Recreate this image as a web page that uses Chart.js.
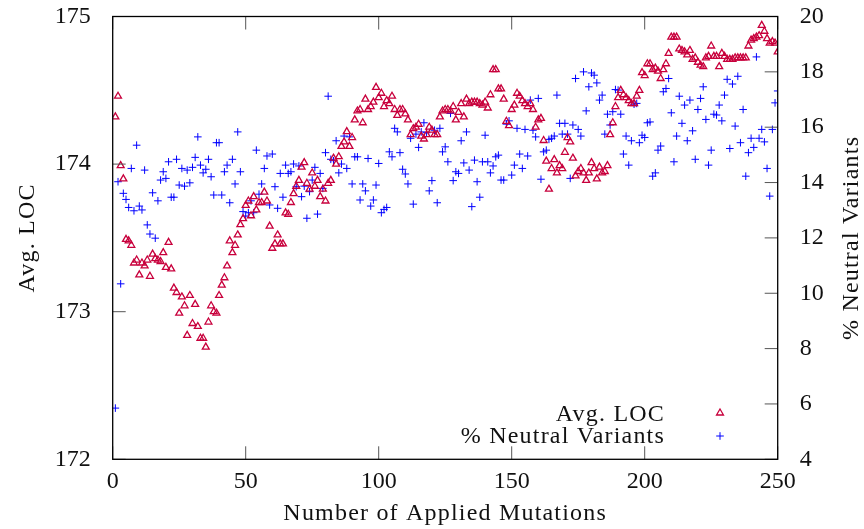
<!DOCTYPE html>
<html>
<head>
<meta charset="utf-8">
<script src="https://cdn.jsdelivr.net/npm/chart.js@4.4.0/dist/chart.umd.min.js"></script>
<style>
html,body{margin:0;padding:0;background:#fff;}
canvas{display:block;}
</style>
</head>
<body>
<canvas id="c" width="864" height="529"></canvas>
<script>
// Number of applied mutations (x categories)
const mutations = Array.from({length: 250}, (_, i) => i + 1);

// Avg. LOC (left axis)
const avgLOC = [
174.32,174.46,173.99,173.90,173.49,173.48,173.45,173.33,173.35,173.25,
173.33,173.31,173.35,173.24,173.39,173.36,173.35,173.34,173.40,173.30,
173.47,173.29,173.16,173.13,172.99,173.10,173.04,172.84,173.11,172.92,
173.05,172.90,172.82,172.82,172.76,172.93,173.04,173.00,172.99,173.11,
173.18,173.23,173.31,173.48,173.40,173.45,173.52,173.59,173.63,173.72,
173.75,173.65,173.78,173.69,173.74,173.74,173.81,173.75,173.58,173.43,
173.46,173.52,173.46,173.46,173.67,173.66,173.74,173.80,173.85,173.89,
173.98,174.01,173.87,173.83,173.94,173.85,173.89,173.78,173.83,173.75,
173.87,173.89,174.04,174.00,174.05,174.12,174.15,174.22,174.12,174.18,
174.30,174.36,174.37,174.28,174.44,174.37,174.39,174.42,174.52,174.45,
174.48,174.39,174.43,174.41,174.46,174.37,174.33,174.37,174.37,174.34,
174.30,174.20,174.24,174.25,174.27,174.19,174.17,174.20,174.25,174.23,
174.20,174.20,174.32,174.36,174.37,174.37,174.36,174.39,174.30,174.35,
174.41,174.32,174.44,174.41,174.42,174.42,174.42,174.41,174.40,174.42,
174.38,174.47,174.64,174.64,174.51,174.51,174.44,174.29,174.26,174.37,
174.40,174.48,174.46,174.43,174.41,174.39,174.41,174.37,174.25,174.30,
174.31,174.16,174.02,173.83,173.97,174.03,173.94,173.99,173.97,174.08,
174.18,174.15,174.04,173.92,173.95,173.97,173.94,173.89,173.94,174.01,
173.97,173.90,173.98,173.94,173.95,173.99,174.20,174.28,174.39,174.45,
174.50,174.47,174.45,174.43,174.41,174.41,174.46,174.50,174.62,174.60,
174.68,174.68,174.64,174.65,174.63,174.58,174.64,174.68,174.75,174.86,
174.86,174.86,174.78,174.77,174.76,174.74,174.77,174.71,174.72,174.69,
174.67,174.66,174.72,174.73,174.80,174.73,174.73,174.66,174.75,174.73,
174.71,174.71,174.71,174.72,174.72,174.72,174.72,174.72,174.80,174.84,
174.85,174.86,174.87,174.94,174.90,174.85,174.82,174.83,174.82,174.76
];

// % Neutral Variants (right axis)
const neutralPct = [
5.85,14.03,10.34,13.61,13.39,13.10,14.51,12.98,15.35,13.15,
13.01,14.45,12.47,12.14,13.63,11.99,13.34,14.09,14.39,14.15,
14.75,13.47,13.47,14.84,13.91,14.51,13.87,14.45,13.99,14.55,
14.91,15.65,14.63,14.35,14.48,14.84,14.21,13.55,15.44,15.44,
13.55,14.39,14.63,13.27,14.84,13.95,15.83,14.39,12.95,12.79,
12.91,13.34,12.91,15.17,13.58,13.95,14.51,14.96,13.19,15.03,
13.85,13.07,14.33,13.47,14.63,14.33,14.39,14.67,13.85,14.60,
13.49,13.87,12.71,13.67,14.09,14.55,12.86,14.33,13.79,15.08,
17.12,14.84,14.79,15.51,14.35,14.67,15.68,14.51,15.65,13.95,
14.93,14.93,13.37,13.95,13.70,14.87,13.15,13.37,13.91,14.69,
12.91,13.03,13.10,15.11,14.93,15.96,15.83,15.08,14.48,14.31,
13.95,15.60,13.22,15.75,15.27,15.83,16.16,15.80,13.70,14.07,
15.89,13.27,15.96,15.11,15.29,14.75,16.50,14.07,14.39,14.33,
15.51,14.71,15.83,14.45,13.13,14.81,14.03,13.47,14.75,15.71,
14.75,14.35,14.60,14.93,14.99,14.09,14.09,16.11,16.23,14.27,
14.63,15.96,15.03,14.51,15.92,14.96,16.98,15.89,15.65,17.04,
14.12,15.11,15.17,15.56,15.60,15.68,17.16,16.14,15.75,16.14,
15.75,14.15,16.08,17.76,15.92,15.68,18.00,16.59,17.46,17.96,
17.88,17.60,16.98,17.16,15.75,16.47,16.08,16.56,17.36,17.34,
16.47,15.03,15.68,14.63,15.51,16.83,16.86,15.44,15.71,15.63,
16.16,16.19,14.23,14.35,15.17,15.32,17.28,17.40,17.76,16.52,
14.75,15.68,17.12,16.14,16.80,15.51,16.98,15.87,14.84,16.64,
17.04,17.46,16.28,14.63,15.17,16.47,16.44,16.80,16.23,17.16,
17.73,15.23,17.56,16.04,17.84,15.44,16.64,14.23,15.08,15.60,
15.27,18.54,15.60,15.92,15.47,14.51,13.51,15.92,16.88,17.31
];

const xTicks = [0, 50, 100, 150, 200, 250];
const yTicks = [172, 173, 174, 175];
const y2Ticks = [4, 6, 8, 10, 12, 14, 16, 18, 20];

const labelLOC = 'Avg. LOC';
const labelNeutral = '% Neutral Variants';
const xTitle = 'Number of Applied Mutations';

const RED = '#c8003c';
const BLUE = '#0000ff';
const FONT = '"Liberation Serif", "Times New Roman", serif';

const locPoints = mutations.map((m, i) => ({x: m, y: avgLOC[i]}));
const neutralPoints = mutations.map((m, i) => ({x: m, y: neutralPct[i]}));

const framePlugin = {
  id: 'frame',
  afterDatasetsDraw(chart) {
    const {ctx, chartArea: a, scales} = chart;
    ctx.save();
    // inward tick marks
    ctx.strokeStyle = '#555';
    ctx.lineWidth = 1;
    ctx.beginPath();
    yTicks.forEach(v => {
      const p = scales.y.getPixelForValue(v);
      ctx.moveTo(a.left, p); ctx.lineTo(a.left + 13, p);
    });
    y2Ticks.forEach(v => {
      const p = scales.y2.getPixelForValue(v);
      ctx.moveTo(a.right, p); ctx.lineTo(a.right - 13, p);
    });
    xTicks.forEach(v => {
      const p = scales.x.getPixelForValue(v);
      ctx.moveTo(p, a.bottom); ctx.lineTo(p, a.bottom - 13);
      ctx.moveTo(p, a.top); ctx.lineTo(p, a.top + 13);
    });
    ctx.stroke();
    // border box
    ctx.strokeStyle = '#000';
    ctx.lineWidth = 1.3;
    ctx.strokeRect(a.left, a.top, a.right - a.left, a.bottom - a.top);

    // titles
    ctx.fillStyle = '#111';
    ctx.font = '24px ' + FONT;
    try { ctx.letterSpacing = '1.2px'; } catch (e) {}
    ctx.textAlign = 'center';
    ctx.textBaseline = 'alphabetic';
    ctx.fillText(xTitle, (a.left + a.right) / 2, 520);
    ctx.save();
    ctx.translate(34, (a.top + a.bottom) / 2);
    ctx.rotate(-Math.PI / 2);
    ctx.fillText(labelLOC, 0, 0);
    ctx.restore();
    ctx.save();
    ctx.translate(858, (a.top + a.bottom) / 2);
    ctx.rotate(-Math.PI / 2);
    ctx.fillText(labelNeutral, 0, 0);
    ctx.restore();

    // legend
    ctx.textAlign = 'right';
    ctx.fillText(labelLOC, 665, 421);
    ctx.fillText(labelNeutral, 665, 443);
    try { ctx.letterSpacing = '0px'; } catch (e) {}
    // legend samples
    const lx = 720;
    ctx.lineWidth = 1.3;
    ctx.strokeStyle = RED;
    ctx.beginPath();
    const r = 4;
    const ly1 = 413;
    ctx.moveTo(lx, ly1 - r);
    ctx.lineTo(lx + r * Math.sin(2 * Math.PI / 3), ly1 - r * Math.cos(2 * Math.PI / 3));
    ctx.lineTo(lx + r * Math.sin(4 * Math.PI / 3), ly1 - r * Math.cos(4 * Math.PI / 3));
    ctx.closePath();
    ctx.stroke();
    ctx.strokeStyle = BLUE;
    ctx.lineWidth = 1;
    ctx.beginPath();
    const ly2 = 436, c = 3.8;
    ctx.moveTo(lx - c, ly2); ctx.lineTo(lx + c, ly2);
    ctx.moveTo(lx, ly2 - c); ctx.lineTo(lx, ly2 + c);
    ctx.stroke();
    ctx.restore();
  }
};

new Chart(document.getElementById('c'), {
  type: 'scatter',
  data: {
    datasets: [
      {
        label: labelLOC,
        data: locPoints,
        yAxisID: 'y',
        pointStyle: 'triangle',
        pointRadius: 4,
        borderColor: RED,
        backgroundColor: 'rgba(0,0,0,0)',
        borderWidth: 1.3
      },
      {
        label: labelNeutral,
        data: neutralPoints,
        yAxisID: 'y2',
        pointStyle: 'cross',
        pointRadius: 3.8,
        borderColor: BLUE,
        backgroundColor: BLUE,
        borderWidth: 1
      }
    ]
  },
  options: {
    responsive: false,
    animation: false,
    devicePixelRatio: 1,
    layout: {padding: {top: 16.5, left: 0, right: 0, bottom: 0}},
    plugins: {legend: {display: false}, tooltip: {enabled: false}},
    scales: {
      x: {
        type: 'linear',
        min: 0, max: 250,
        afterFit(s) { s.height = 69.7; s.paddingLeft = 0; s.paddingRight = 0; },
        afterBuildTicks(s) { s.ticks = xTicks.map(v => ({value: v})); },
        grid: {display: false, drawTicks: false},
        border: {display: false},
        ticks: {padding: 8, color: '#111', font: {family: FONT, size: 24}, maxRotation: 0}
      },
      y: {
        type: 'linear',
        position: 'left',
        min: 172, max: 175,
        afterFit(s) { s.width = 112.7; s.paddingTop = 0; s.paddingBottom = 0; },
        afterBuildTicks(s) { s.ticks = yTicks.map(v => ({value: v})); },
        grid: {display: false, drawTicks: false},
        border: {display: false},
        ticks: {padding: 22, color: '#111', font: {family: FONT, size: 24}}
      },
      y2: {
        type: 'linear',
        position: 'right',
        min: 4, max: 20,
        afterFit(s) { s.width = 86.3; s.paddingTop = 0; s.paddingBottom = 0; },
        afterBuildTicks(s) { s.ticks = y2Ticks.map(v => ({value: v})); },
        grid: {display: false, drawTicks: false},
        border: {display: false},
        ticks: {padding: 22, color: '#111', font: {family: FONT, size: 24}}
      }
    }
  },
  plugins: [framePlugin]
});
</script>
</body>
</html>
